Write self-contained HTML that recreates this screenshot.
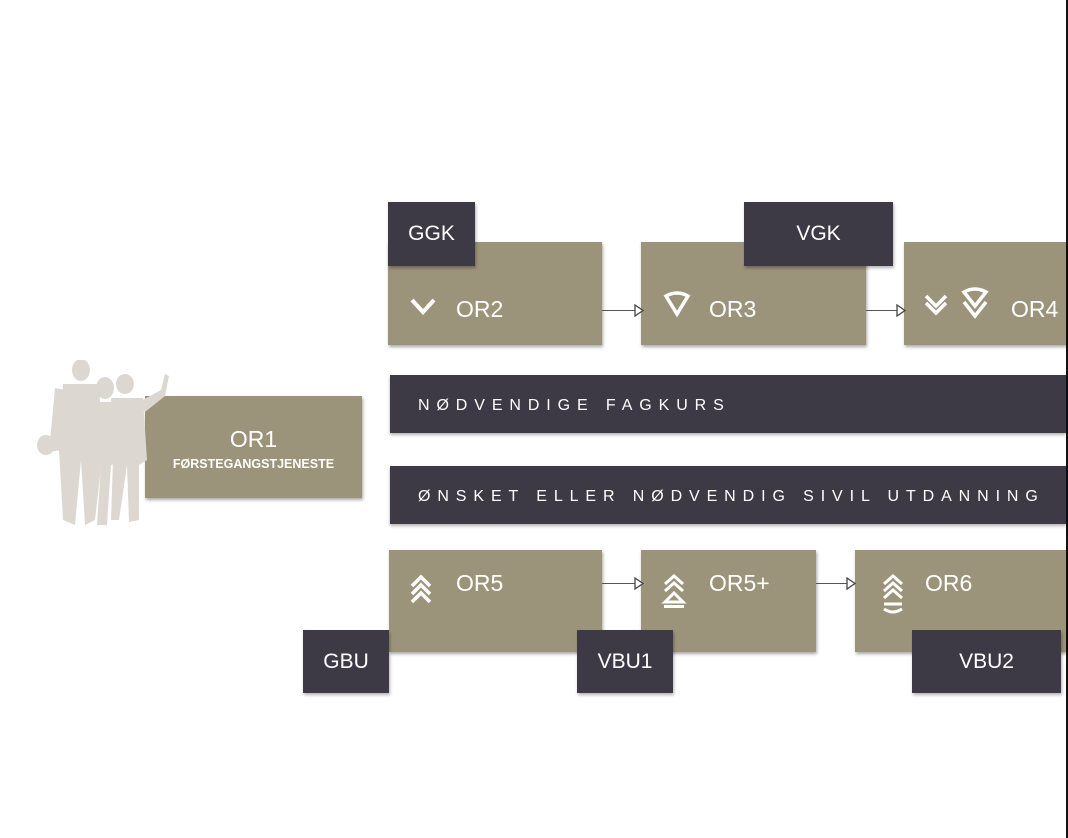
<!DOCTYPE html>
<html><head><meta charset="utf-8"><style>
body{margin:0;width:1068px;height:838px;background:#fff;position:relative;overflow:hidden;font-family:"Liberation Sans",sans-serif}
.t{position:absolute;background:#9c947a;box-shadow:1px 2px 3px rgba(0,0,0,.35);color:#fff}
.d{position:absolute;background:#3d3a45;color:#fff;font-size:21px;display:flex;align-items:center;justify-content:center;box-shadow:1px 2px 3px rgba(0,0,0,.3)}
.lbl{position:absolute;font-size:23px;color:#fff}
.bar{position:absolute;left:390px;width:676px;height:58px;background:#3d3a45;color:#fff;font-size:16px;letter-spacing:6.9px;line-height:62px;padding-left:28px;box-sizing:border-box;box-shadow:0 2px 3px rgba(0,0,0,.3);white-space:nowrap;overflow:hidden}
.ar{position:absolute;height:1px;background:#555}
svg{position:absolute}
</style></head><body>
<div style="position:absolute;left:1066px;top:0;width:2px;height:838px;background:#111"></div>

<div class="t" style="left:388px;top:242px;width:214px;height:103px"></div>
<div class="t" style="left:641px;top:242px;width:225px;height:103px"></div>
<div class="t" style="left:904px;top:242px;width:162px;height:103px"></div>
<div class="d" style="left:388px;top:202px;width:87px;height:64px">GGK</div>
<div class="d" style="left:744px;top:202px;width:149px;height:64px">VGK</div>
<div class="lbl" style="left:456px;top:296px">OR2</div>
<div class="lbl" style="left:709px;top:296px">OR3</div>
<div class="lbl" style="left:1011px;top:296px">OR4</div>
<svg style="left:408px;top:296px" width="30" height="24"><polyline points="4,4 15,16 26,4" fill="none" stroke="#fff" stroke-width="4"/></svg>
<svg style="left:662px;top:290px" width="30" height="30"><path d="M4,6 Q15,0 26,6 L15,24 Z" fill="none" stroke="#fff" stroke-width="3.5"/></svg>
<svg style="left:922px;top:286px" width="70" height="36"><polyline points="4,10 14,20 24,10" fill="none" stroke="#fff" stroke-width="3.5"/><polyline points="4,17 14,27 24,17" fill="none" stroke="#fff" stroke-width="3.5"/><path d="M42,6 Q53,0 64,6 L53,20 Z" fill="none" stroke="#fff" stroke-width="3.5"/><polyline points="42,16 53,30 64,16" fill="none" stroke="#fff" stroke-width="3.5"/></svg>
<div class="ar" style="left:602px;top:310px;width:34px"></div>
<svg style="left:634px;top:304px" width="10" height="13"><path d="M1,1 L9,6.5 L1,12 Z" fill="#fff" stroke="#444" stroke-width="1.3"/></svg>
<div class="ar" style="left:866px;top:310px;width:32px"></div>
<svg style="left:896px;top:304px" width="10" height="13"><path d="M1,1 L9,6.5 L1,12 Z" fill="#fff" stroke="#444" stroke-width="1.3"/></svg>

<div class="bar" style="top:375px">NØDVENDIGE FAGKURS</div>
<div class="bar" style="top:466px">ØNSKET ELLER NØDVENDIG SIVIL UTDANNING</div>

<div class="t" style="left:145px;top:396px;width:217px;height:102px"></div>
<div style="position:absolute;left:145px;top:426px;width:217px;text-align:center;color:#fff;font-size:23px">OR1</div>
<div style="position:absolute;left:145px;top:457px;width:217px;text-align:center;color:#fff;font-size:12.5px;font-weight:bold">FØRSTEGANGSTJENESTE</div>
<svg style="left:15px;top:360px" width="160" height="175">
<g fill="#dcd8d1">
<ellipse cx="66" cy="10" rx="9" ry="11"/><path d="M48,24 L84,24 L88,90 L80,160 L70,165 L66,100 L60,165 L48,160 L44,90 Z"/>
<ellipse cx="31" cy="85" rx="9" ry="10"/><path d="M40,28 L50,30 L46,90 L34,92 Z"/>
<ellipse cx="90" cy="28" rx="9" ry="11"/><path d="M74,42 L104,42 L110,100 L96,105 L92,165 L82,165 L86,105 L68,100 Z"/>
<ellipse cx="110" cy="24" rx="9" ry="10"/><path d="M96,38 L128,38 L132,100 L124,105 L124,160 L114,162 L112,105 L104,160 L96,160 L98,100 Z"/>
<path d="M124,42 L146,30 L150,14 L154,16 L150,36 L130,52 Z"/>
</g></svg>

<div class="t" style="left:389px;top:550px;width:213px;height:102px"></div>
<div class="t" style="left:641px;top:550px;width:175px;height:102px"></div>
<div class="t" style="left:855px;top:550px;width:211px;height:102px"></div>
<div class="d" style="left:303px;top:630px;width:86px;height:63px">GBU</div>
<div class="d" style="left:577px;top:630px;width:96px;height:63px">VBU1</div>
<div class="d" style="left:912px;top:630px;width:149px;height:63px">VBU2</div>
<div class="lbl" style="left:456px;top:570px">OR5</div>
<div class="lbl" style="left:709px;top:570px">OR5+</div>
<div class="lbl" style="left:925px;top:570px">OR6</div>
<svg style="left:408px;top:572px" width="30" height="36"><polyline points="4,14 13,5 22,14" fill="none" stroke="#fff" stroke-width="3.5"/><polyline points="4,22 13,13 22,22" fill="none" stroke="#fff" stroke-width="3.5"/><polyline points="4,30 13,21 22,30" fill="none" stroke="#fff" stroke-width="3.5"/></svg>
<svg style="left:661px;top:572px" width="30" height="40"><polyline points="4,12 13,4 22,12" fill="none" stroke="#fff" stroke-width="3"/><polyline points="4,19 13,11 22,19" fill="none" stroke="#fff" stroke-width="3"/><path d="M4,30 L13,21 L22,30 Z" fill="none" stroke="#fff" stroke-width="3"/><rect x="3" y="33" width="20" height="3" fill="#fff"/></svg>
<svg style="left:880px;top:572px" width="30" height="44"><polyline points="4,12 13,4 22,12" fill="none" stroke="#fff" stroke-width="3"/><polyline points="4,19 13,11 22,19" fill="none" stroke="#fff" stroke-width="3"/><polyline points="4,26 13,18 22,26" fill="none" stroke="#fff" stroke-width="3"/><path d="M4,32 L22,32 M4,37 Q13,43 22,37" fill="none" stroke="#fff" stroke-width="3"/></svg>
<div class="ar" style="left:602px;top:583px;width:34px"></div>
<svg style="left:634px;top:577px" width="10" height="13"><path d="M1,1 L9,6.5 L1,12 Z" fill="#fff" stroke="#444" stroke-width="1.3"/></svg>
<div class="ar" style="left:816px;top:583px;width:32px"></div>
<svg style="left:846px;top:577px" width="10" height="13"><path d="M1,1 L9,6.5 L1,12 Z" fill="#fff" stroke="#444" stroke-width="1.3"/></svg>
</body></html>
